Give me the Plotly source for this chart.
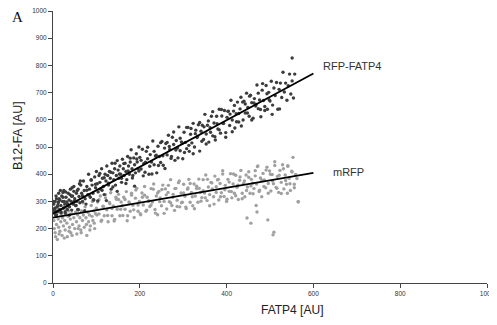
import plotly.graph_objects as go

# RFP-FATP4 series (FATP4 [AU], B12-FA [AU])
fatp4_x = [2,3,5,4,6,8,9,10,12,13,15,16,18,19,20,
           22,24,25,27,28,30,32,33,35,37,38,40,42,43,45,47,48,50,52,54,55,57,58,60,
           62,64,66,68,70,72,74,76,78,80,82,84,86,88,90,92,94,96,98,100,102,104,106,108,110,112,114,116,118,120,
           122,124,126,128,130,132,134,136,138,140,142,144,146,148,150,152,154,156,158,160,162,164,166,168,170,172,174,176,178,180,182,184,186,188,190,192,194,196,198,
           200,203,206,209,212,215,218,221,224,227,230,233,236,239,242,245,248,251,254,257,
           260,263,266,269,272,275,278,281,284,287,290,293,296,299,302,305,308,311,314,317,
           320,323,326,329,332,335,338,341,344,347,350,353,356,359,362,365,368,371,374,377,
           380,383,386,389,392,395,398,401,404,407,410,413,416,419,422,425,428,431,434,437,
           440,443,446,449,452,455,458,461,464,467,470,473,476,479,482,485,488,491,494,497,
           500,503,506,509,512,515,518,521,524,527,530,533,536,539,542,545,548,551,554,557,
           551,505,522,
           3,8,13,18,23,28,33,38,43,48,53,58,63,68,73,78,83,88,93,98,
           103,108,113,118,123,128,133,138,143,148,153,158,163,168,173,178,183,188,193,198,
           203,208,213,218,223,228,233,238,243,248,253,258,263,268,273,278,283,288,293,298,
           303,308,313,318,323,328,333,338,343,348,353,358,363,368,373,378,383,388,393,398,
           403,408,413,418,423,428,433,438,443,448,453,458,463,468,473,478,483,488,493,498,
           1,7,11,14,17,23,26,29,34,39,44,49,56,61]
fatp4_y = [290,265,300,275,250,310,280,262,295,330,270,305,285,258,320,
           300,275,340,290,262,315,298,270,330,305,280,345,300,268,320,290,355,310,285,330,300,270,345,318,
           295,360,330,300,375,340,310,290,355,325,400,345,315,380,360,330,305,390,350,410,365,335,395,370,345,420,385,355,325,400,
           375,430,395,360,410,385,345,440,405,380,420,360,395,450,415,385,430,400,370,455,420,395,440,410,380,465,430,400,445,490,420,395,460,435,405,475,445,420,500,
           462,419,492,439,407,484,457,400,472,445,522,435,467,405,503,465,443,520,433,496,
           513,471,543,491,458,536,509,451,524,496,574,486,519,457,554,517,494,572,484,547,
           515,587,500,562,535,582,485,558,580,528,620,548,580,518,571,613,541,588,526,613,
           566,639,551,614,586,634,536,609,632,579,672,599,632,570,622,665,592,640,577,665,
           668,625,698,645,613,690,663,606,678,651,728,641,673,611,709,671,649,726,639,701,
           669,742,654,717,689,737,639,712,735,682,775,702,735,672,725,768,695,743,680,768,
           827,620,640,
           270,250,299,263,333,257,287,250,319,337,285,269,375,321,266,341,323,378,306,363,
           302,403,341,387,303,367,407,353,440,337,401,385,439,366,412,459,386,356,456,412,
           451,394,444,499,429,401,484,470,432,516,468,421,517,502,465,555,489,460,532,514,
           480,572,506,568,475,549,539,590,521,574,511,596,554,630,538,586,563,638,587,553,
           631,621,556,653,593,623,683,599,658,625,687,599,662,656,698,638,733,634,696,674,
           300,320,285,310,340,315,300,335,290,325,350,300,340,365]

# mRFP series
mrfp_x = [2,3,4,5,7,8,9,10,12,13,15,16,18,19,21,22,24,25,27,28,30,32,33,35,36,38,40,41,43,45,46,48,50,52,54,55,57,59,60,62,64,66,68,70,72,74,76,78,80,82,84,86,88,90,92,94,96,98,100,
          103,106,109,112,115,118,121,124,127,130,133,136,139,142,145,148,151,154,157,160,
          163,166,169,172,175,178,181,184,187,190,193,196,199,202,205,208,211,214,217,220,
          223,226,229,232,235,238,241,244,247,250,253,256,259,262,265,268,271,274,277,280,
          283,286,289,292,295,298,301,304,307,310,313,316,319,322,325,328,331,334,337,340,
          343,346,349,352,355,358,361,364,367,370,373,376,379,382,385,388,391,394,397,400,
          403,406,409,412,415,418,421,424,427,430,433,436,439,442,445,448,451,454,457,460,
          463,466,469,472,475,478,481,484,487,490,493,496,499,502,505,508,511,514,517,520,
          523,526,529,532,535,538,541,544,547,550,553,556,559,562,565,
          447,456,470,495,507,509,468,565,540,
          101,106,111,116,121,126,131,136,141,146,151,156,161,166,171,176,181,186,191,196,
          201,206,211,216,221,226,231,236,241,246,251,256,261,266,271,276,281,286,291,296,
          301,306,311,316,321,326,331,336,341,346,351,356,361,366,371,376,381,386,391,396,
          401,406,411,416,421,426,431,436,441,446,451,456,461,466,471,476,481,486,491,496,
          501,506,511,516,521,526,531,536,541,546,551,556,
          6,14,26,37,44,58,65,77,85,95,11,31,53,69,91]
mrfp_y = [230,200,255,185,245,215,270,160,235,205,260,190,225,250,175,240,210,280,230,195,255,220,170,245,265,205,235,185,255,215,290,240,200,260,225,180,250,270,210,240,195,265,230,250,205,280,240,175,260,225,250,210,285,245,230,265,200,255,275,
          298,254,320,231,282,247,313,269,225,296,332,247,283,234,315,271,307,247,298,284,
          315,271,336,247,298,264,330,286,241,312,348,264,300,251,331,287,323,264,315,300,
          281,347,298,364,270,320,251,337,313,284,360,300,346,272,333,299,380,285,326,267,
          348,304,369,280,331,297,363,319,274,345,381,297,333,284,364,320,356,297,348,333,
          314,380,331,397,303,353,284,370,346,317,393,333,379,305,366,332,413,318,359,300,
          381,337,402,313,364,330,396,352,307,378,414,330,366,317,397,353,389,330,381,367,
          347,413,364,430,336,386,317,403,379,350,426,366,412,338,399,365,446,351,392,333,
          414,370,435,346,397,363,429,385,340,411,462,363,399,384,300,
          239,220,261,232,177,187,285,298,330,
          250,306,227,281,325,248,291,274,228,308,326,271,248,307,229,294,323,269,342,287,
          255,315,355,268,303,287,345,257,331,299,344,256,324,359,295,315,347,281,375,295,
          331,279,349,366,317,273,347,382,301,339,313,381,325,368,290,354,381,317,401,343,
          308,371,336,401,321,360,390,310,375,340,409,357,328,394,428,341,379,355,415,330,
          400,375,432,348,396,329,420,377,431,365,408,350,
          170,180,165,190,175,200,185,215,195,220,280,275,285,295,300]

# Linear trend lines (start/end of fitted range)
trend_x = [0, 600]
fatp4_trend = [255, 770]
mrfp_trend = [240, 405]

x_ticks = [0, 200, 400, 600, 800, 1000]
y_ticks = [0, 100, 200, 300, 400, 500, 600, 700, 800, 900, 1000]

fig = go.Figure()
fig.add_trace(go.Scatter(x=mrfp_x, y=mrfp_y, mode="markers",
                         marker=dict(size=3.4, color="#a0a0a0"), name="mRFP"))
fig.add_trace(go.Scatter(x=fatp4_x, y=fatp4_y, mode="markers",
                         marker=dict(size=3.4, color="#3c3c3c"), name="RFP-FATP4"))
fig.add_trace(go.Scatter(x=trend_x, y=fatp4_trend, mode="lines",
                         line=dict(color="black", width=1.8)))
fig.add_trace(go.Scatter(x=trend_x, y=mrfp_trend, mode="lines",
                         line=dict(color="black", width=1.8)))

label_font = dict(family="Liberation Sans, Arial", size=11, color="#333")
fig.add_annotation(x=618, y=798, text="RFP-FATP4", showarrow=False, xanchor="left", font=label_font)
fig.add_annotation(x=641, y=408, text="mRFP", showarrow=False, xanchor="left", font=label_font)
fig.add_annotation(xref="paper", yref="paper", x=-0.1, y=1.015, text="A", showarrow=False,
                   xanchor="left", yanchor="top",
                   font=dict(family="Liberation Serif, Times New Roman", size=15, color="#111"))
fig.add_annotation(xref="paper", yref="paper", x=0.551, y=-0.099, text="FATP4 [AU]",
                   showarrow=False, xanchor="center", yanchor="middle",
                   font=dict(family="Liberation Sans, Arial", size=12, color="#222"))
fig.add_annotation(xref="paper", yref="paper", x=-0.082, y=0.542, text="B12-FA [AU]",
                   showarrow=False, xanchor="center", yanchor="middle", textangle=-90,
                   font=dict(family="Liberation Sans, Arial", size=12.5, color="#222"))

axis_common = dict(showgrid=False, zeroline=False, showline=True, linecolor="#444", linewidth=1,
                   ticks="outside", ticklen=4, tickcolor="#444", automargin=False,
                   ticklabeloverflow="allow",
                   tickfont=dict(family="Liberation Sans, Arial", size=6.5, color="#333"))
fig.update_xaxes(range=[0, 1000], tickvals=x_ticks, **axis_common)
fig.update_yaxes(range=[0, 1000], tickvals=y_ticks, **axis_common)
# page body adds an 8px offset; size/margins compensate so the plot area sits at 53..487 x 11..283
fig.update_layout(width=489, height=317, showlegend=False,
                  margin=dict(l=45, r=10, t=3, b=42),
                  plot_bgcolor="white", paper_bgcolor="white")
fig.write_html("out.html")
